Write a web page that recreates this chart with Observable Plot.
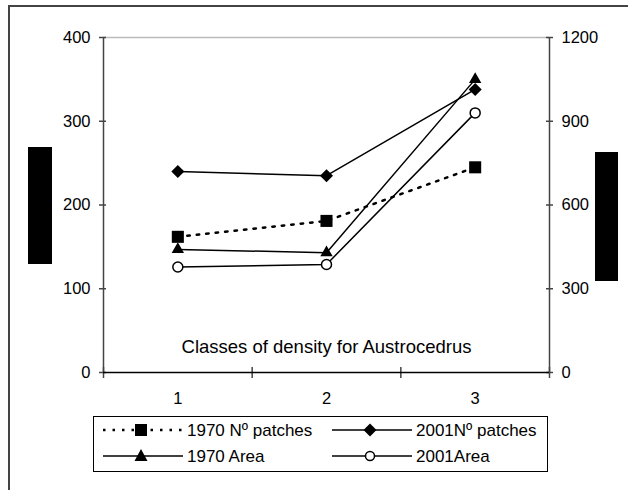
<!DOCTYPE html>
<html><head><meta charset="utf-8">
<script src="https://cdn.jsdelivr.net/npm/d3@7"></script>
<script src="https://cdn.jsdelivr.net/npm/@observablehq/plot@0.6"></script>
<style>
body{margin:0;background:#fff;}
#wrap{position:relative;width:628px;height:490px;overflow:hidden;background:#fff;font-family:"Liberation Sans",Arial,sans-serif;}
#chart{position:absolute;left:0;top:0;}
.fr{position:absolute;background:#444;}
.blk{position:absolute;background:#000;}
#legend{position:absolute;left:93px;top:416px;width:455px;height:56px;border:1px solid #000;box-sizing:border-box;background:#fff;}
</style></head><body>
<div id="wrap">
  <div id="chart"></div>
  <div class="fr" style="left:8px;top:5px;width:2px;height:485px"></div>
  <div class="fr" style="left:8px;top:5px;width:620px;height:2px"></div>
  <div class="blk" style="left:28px;top:147px;width:24px;height:117px"></div>
  <div class="blk" style="left:595px;top:152px;width:23px;height:129px"></div>
  <div id="legend"></div>
</div>
<script>
const categories = [1, 2, 3];
const seriesNames = ["1970 Nº patches", "2001Nº patches", "1970 Area", "2001Area"];
const patches1970 = [162, 181, 245];
const patches2001 = [240, 235, 338];
const area1970 = [441, 429, 1050];
const area2001 = [378, 387, 930];
const leftTicks = [0, 100, 200, 300, 400];
const rightTicks = [0, 300, 600, 900, 1200];
const xTitle = "Classes of density for Austrocedrus";

const ratio = rightTicks[rightTicks.length - 1] / leftTicks[leftTicks.length - 1];
const toRows = (vals, scale) => categories.map((c, i) => ({x: c, y: vals[i] / scale}));
const sP70 = toRows(patches1970, 1);
const sP01 = toRows(patches2001, 1);
const sA70 = toRows(area1970, ratio);
const sA01 = toRows(area2001, ratio);

const diamondSym = {draw(ctx, size) { const r = Math.sqrt(size / 2); ctx.moveTo(0, -r); ctx.lineTo(r, 0); ctx.lineTo(0, r); ctx.lineTo(-r, 0); ctx.closePath(); }};
const bounds = [0.5, 1.5, 2.5, 3.5];
const FONT = '"Liberation Sans", Arial, sans-serif';

const chart = Plot.plot({
  width: 628, height: 410,
  marginLeft: 103, marginRight: 79, marginTop: 37, marginBottom: 38,
  style: {fontFamily: FONT, fontSize: "16px", color: "#000", background: "transparent"},
  x: {type: "linear", domain: [0.5, 3.5], label: null},
  y: {domain: [0, 400], label: null},
  marks: [
    Plot.ruleY([400], {stroke: "#bbb", strokeWidth: 1.5}),
    Plot.ruleX([0.5, 3.5], {stroke: "#444", strokeWidth: 1.5}),
    Plot.ruleY(leftTicks, {y: d => d, x1: 0.5, x2: 0.5, insetLeft: -4, insetRight: -3, stroke: "#444", strokeWidth: 1.5}),
    Plot.ruleY(leftTicks, {y: d => d, x1: 3.5, x2: 3.5, insetLeft: -3, insetRight: -4, stroke: "#444", strokeWidth: 1.5}),
    Plot.ruleX(bounds, {x: d => d, y1: 0, y2: 0, insetTop: -5, insetBottom: -6, stroke: "#444", strokeWidth: 1.5}),
    Plot.ruleY([0], {stroke: "#000", strokeWidth: 1.5}),
    Plot.axisY(leftTicks, {anchor: "left", label: null, tickSize: 0, tickPadding: 13, fontSize: 16.5}),
    Plot.axisY(rightTicks.map(v => v / ratio), {anchor: "right", label: null, tickSize: 0, tickPadding: 12, fontSize: 16.5, tickFormat: d => String(Math.round(d * ratio))}),
    Plot.axisX(categories, {anchor: "bottom", label: null, tickSize: 0, tickPadding: 20, fontSize: 16.5, tickFormat: d => String(d)}),
    Plot.text([xTitle], {frameAnchor: "bottom", dy: -25, fontSize: 18.5, lineAnchor: "middle", fill: "#000"}),
    Plot.line(sP70, {x: "x", y: "y", stroke: "#000", strokeWidth: 2.5, strokeDasharray: "2.5,7"}),
    Plot.line(sP01, {x: "x", y: "y", stroke: "#000", strokeWidth: 1.5}),
    Plot.line(sA70, {x: "x", y: "y", stroke: "#000", strokeWidth: 1.5}),
    Plot.line(sA01, {x: "x", y: "y", stroke: "#000", strokeWidth: 1.5}),
    Plot.dot(sP70, {x: "x", y: "y", symbol: "square", r: 6.8, fill: "#000", stroke: "none"}),
    Plot.dot(sP01, {x: "x", y: "y", symbol: diamondSym, r: 5.2, fill: "#000", stroke: "none"}),
    Plot.dot(sA70, {x: "x", y: "y", symbol: "triangle", r: 4.6, fill: "#000", stroke: "none"}),
    Plot.dot(sA01, {x: "x", y: "y", symbol: "circle", r: 5, fill: "#fff", stroke: "#000", strokeWidth: 1.5})
  ]
});
document.getElementById("chart").appendChild(chart);

// Legend
const lg = d3.select("#legend").append("svg").attr("width", 453).attr("height", 54)
  .style("position", "absolute").style("left", "0px").style("top", "0px");
const items = [
  {name: seriesNames[0], col: 0, row: 0, dash: "2.5,7", sw: 2.5, sym: "square"},
  {name: seriesNames[1], col: 1, row: 0, dash: null, sw: 1.5, sym: "diamond"},
  {name: seriesNames[2], col: 0, row: 1, dash: null, sw: 1.5, sym: "triangle"},
  {name: seriesNames[3], col: 1, row: 1, dash: null, sw: 1.5, sym: "circle"}
];
const colX = [9, 238], rowY = [13, 39];
items.forEach(it => {
  const x0 = colX[it.col], y0 = rowY[it.row];
  const g = lg.append("g");
  g.append("line").attr("x1", x0).attr("x2", x0 + 80).attr("y1", y0).attr("y2", y0)
    .attr("stroke", "#000").attr("stroke-width", it.sw).attr("stroke-dasharray", it.dash);
  const mx = x0 + 38;
  if (it.sym === "square") g.append("rect").attr("x", mx - 6).attr("y", y0 - 6).attr("width", 12).attr("height", 12).attr("fill", "#000");
  if (it.sym === "diamond") g.append("path").attr("d", `M${mx},${y0-6.5}L${mx+6.5},${y0}L${mx},${y0+6.5}L${mx-6.5},${y0}Z`).attr("fill", "#000");
  if (it.sym === "triangle") g.append("path").attr("d", `M${mx},${y0-7}L${mx+6.5},${y0+5}L${mx-6.5},${y0+5}Z`).attr("fill", "#000");
  if (it.sym === "circle") g.append("circle").attr("cx", mx).attr("cy", y0).attr("r", 4.5).attr("fill", "#fff").attr("stroke", "#000").attr("stroke-width", 1.5);
  g.append("text").attr("x", x0 + 84).attr("y", y0).attr("dy", "0.35em")
    .attr("font-family", FONT).attr("font-size", 17).attr("fill", "#000")
    .text(it.name);
});
</script>
</body></html>
